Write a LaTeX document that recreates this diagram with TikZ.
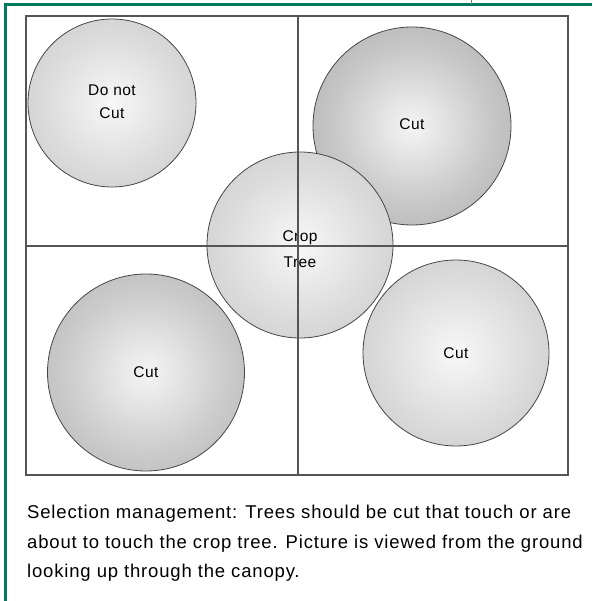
\documentclass[tikz,border=0pt]{standalone}
\usepackage{fontspec}
\setmainfont{Liberation Sans}
\newfontfamily\capfont{Liberation Sans}[LetterSpace=4.5]
\newfontfamily\lblfont{Liberation Sans}[LetterSpace=3]
\definecolor{framegreen}{RGB}{0,122,94}
\definecolor{gridgray}{RGB}{85,85,85}
\definecolor{edgegray}{RGB}{70,70,70}
\pgfdeclareradialshading{treelight}{\pgfpointorigin}{rgb(0bp)=(0.97,0.97,0.97); rgb(20bp)=(0.86,0.86,0.86); rgb(50bp)=(0.72,0.72,0.72)}
\pgfdeclareradialshading{treepale}{\pgfpointorigin}{rgb(0bp)=(0.97,0.97,0.97); rgb(20bp)=(0.86,0.86,0.86); rgb(50bp)=(0.70,0.70,0.70)}
\pgfdeclareradialshading{treemid}{\pgfpointorigin}{rgb(0bp)=(0.96,0.96,0.96); rgb(20bp)=(0.80,0.80,0.80); rgb(50bp)=(0.61,0.61,0.61)}
\pgfdeclareradialshading{treedark}{\pgfpointorigin}{rgb(0bp)=(0.96,0.96,0.96); rgb(20bp)=(0.78,0.78,0.78); rgb(50bp)=(0.58,0.58,0.58)}
\newcommand\shiftlbl[2]{\raisebox{#1}[\height][\depth]{#2}}
\begin{document}
\begin{tikzpicture}[x=1pt,y=-1pt,
  frameline/.style={draw=framegreen, line width=3pt},
  gridline/.style={draw=gridgray, line width=1.1pt},
  tree/.style={circle, draw=edgegray, line width=0.8pt, inner sep=0pt, align=center,
    font=\lblfont\fontsize{15.5}{24}\selectfont, text=black},
  caption/.style={anchor=north west, align=left, inner sep=0pt,
    font=\capfont\fontsize{18.5}{29.5}\selectfont, text=black}]
\useasboundingbox (0,0) rectangle (592,601);
% trees
\node[tree, minimum size=168pt, shading=treelight] (dnc) at (112,103) {\shiftlbl{1.5pt}{\shortstack{Do not\\[9pt]Cut}}};
\node[tree, minimum size=198pt, shading=treedark] (cutTR) at (412,126) {\shiftlbl{1.5pt}{Cut}};
\node[tree, minimum size=197pt, shading=treemid] (cutBL) at (146,372.5) {Cut};
\node[tree, minimum size=186pt, shading=treepale] (cutBR) at (456,353) {Cut};
\node[tree, minimum size=186pt, shading=treelight] (crop) at (300,245) {\shiftlbl{-4pt}{\shortstack{Crop\\[9pt]Tree}}};
% grid
\coordinate (gNW) at (26,16);
\coordinate (gSE) at (568,475);
\coordinate (gN) at (298,16);
\coordinate (gS) at (298,475);
\coordinate (gW) at (26,246);
\coordinate (gE) at (568,246);
\draw[gridline] (gNW) rectangle (gSE);
\draw[gridline] (gN) -- (gS);
\draw[gridline] (gW) -- (gE);
% frame
\coordinate (fTL) at (5,5);
\coordinate (fTR) at (592,5);
\coordinate (fBL) at (5,601);
\draw[frameline] (fBL) -- (fTL) -- (fTR);
\coordinate (tkA) at (471,0);
\coordinate (tkB) at (471,4);
\draw[gray, line width=0.6pt] (tkA) -- (tkB);
% caption
\node[caption] (cap) at (27,505) {Selection management: Trees should be cut that touch or are\\about to touch the crop tree. Picture is viewed from the ground\\looking up through the canopy.};
\end{tikzpicture}
\end{document}
